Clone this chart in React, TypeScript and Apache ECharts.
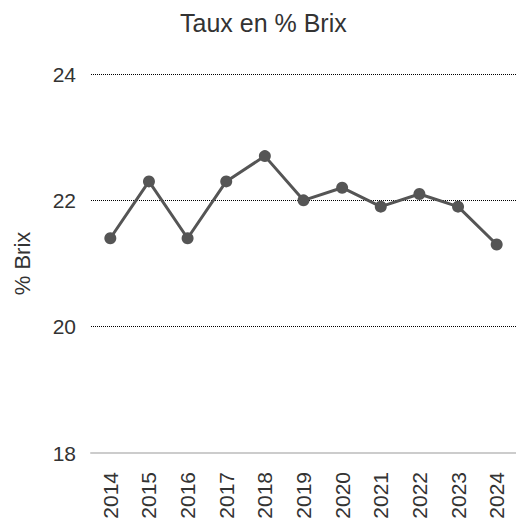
import React, { useEffect, useRef } from "react";
import * as echarts from "echarts";

const years = ["2014", "2015", "2016", "2017", "2018", "2019", "2020", "2021", "2022", "2023", "2024"];
const brix = [21.4, 22.3, 21.4, 22.3, 22.7, 22.0, 22.2, 21.9, 22.1, 21.9, 21.3];
const titleText = "Taux en % Brix";
const yName = "% Brix";

export default function App() {
  const ref = useRef<HTMLDivElement>(null);
  useEffect(() => {
    if (!ref.current) return;
    const chart = echarts.init(ref.current, undefined, { renderer: "svg" });
    const font = "'Liberation Sans', Arial, sans-serif";
    chart.setOption({
      animation: false,
      textStyle: { fontFamily: font },
      title: {
        text: titleText,
        left: 180,
        top: 10,
        padding: 0,
        textStyle: { fontSize: 25, fontWeight: "normal", color: "#333", fontFamily: font },
      },
      grid: { left: 91, right: -4, top: 74, bottom: 71, containLabel: false },
      xAxis: {
        type: "category",
        data: years,
        boundaryGap: true,
        axisLine: { lineStyle: { color: "#ccc", width: 2 } },
        axisTick: { alignWithLabel: true, length: 7, lineStyle: { color: "#ccc", width: 2 } },
        axisLabel: { rotate: 90, fontSize: 21, color: "#333", margin: 19, fontFamily: font },
        splitLine: { show: false },
      },
      yAxis: {
        type: "value",
        min: 18,
        max: 24,
        interval: 2,
        name: yName,
        nameLocation: "middle",
        nameGap: 58,
        nameTextStyle: { fontSize: 22, color: "#333", fontFamily: font },
        axisLine: { show: false },
        axisTick: { show: false },
        axisLabel: { fontSize: 21, color: "#333", margin: 15, fontFamily: font },
        splitLine: { lineStyle: { color: "#000", type: [1, 1], width: 1 } },
      },
      series: [
        {
          type: "line",
          data: brix,
          symbol: "circle",
          symbolSize: 12,
          lineStyle: { color: "#555", width: 3 },
          itemStyle: { color: "#555" },
        },
      ],
    });
    return () => chart.dispose();
  }, []);
  return <div ref={ref} style={{ width: 516, height: 524, position: "absolute", left: 0, top: 0 }} />;
}
